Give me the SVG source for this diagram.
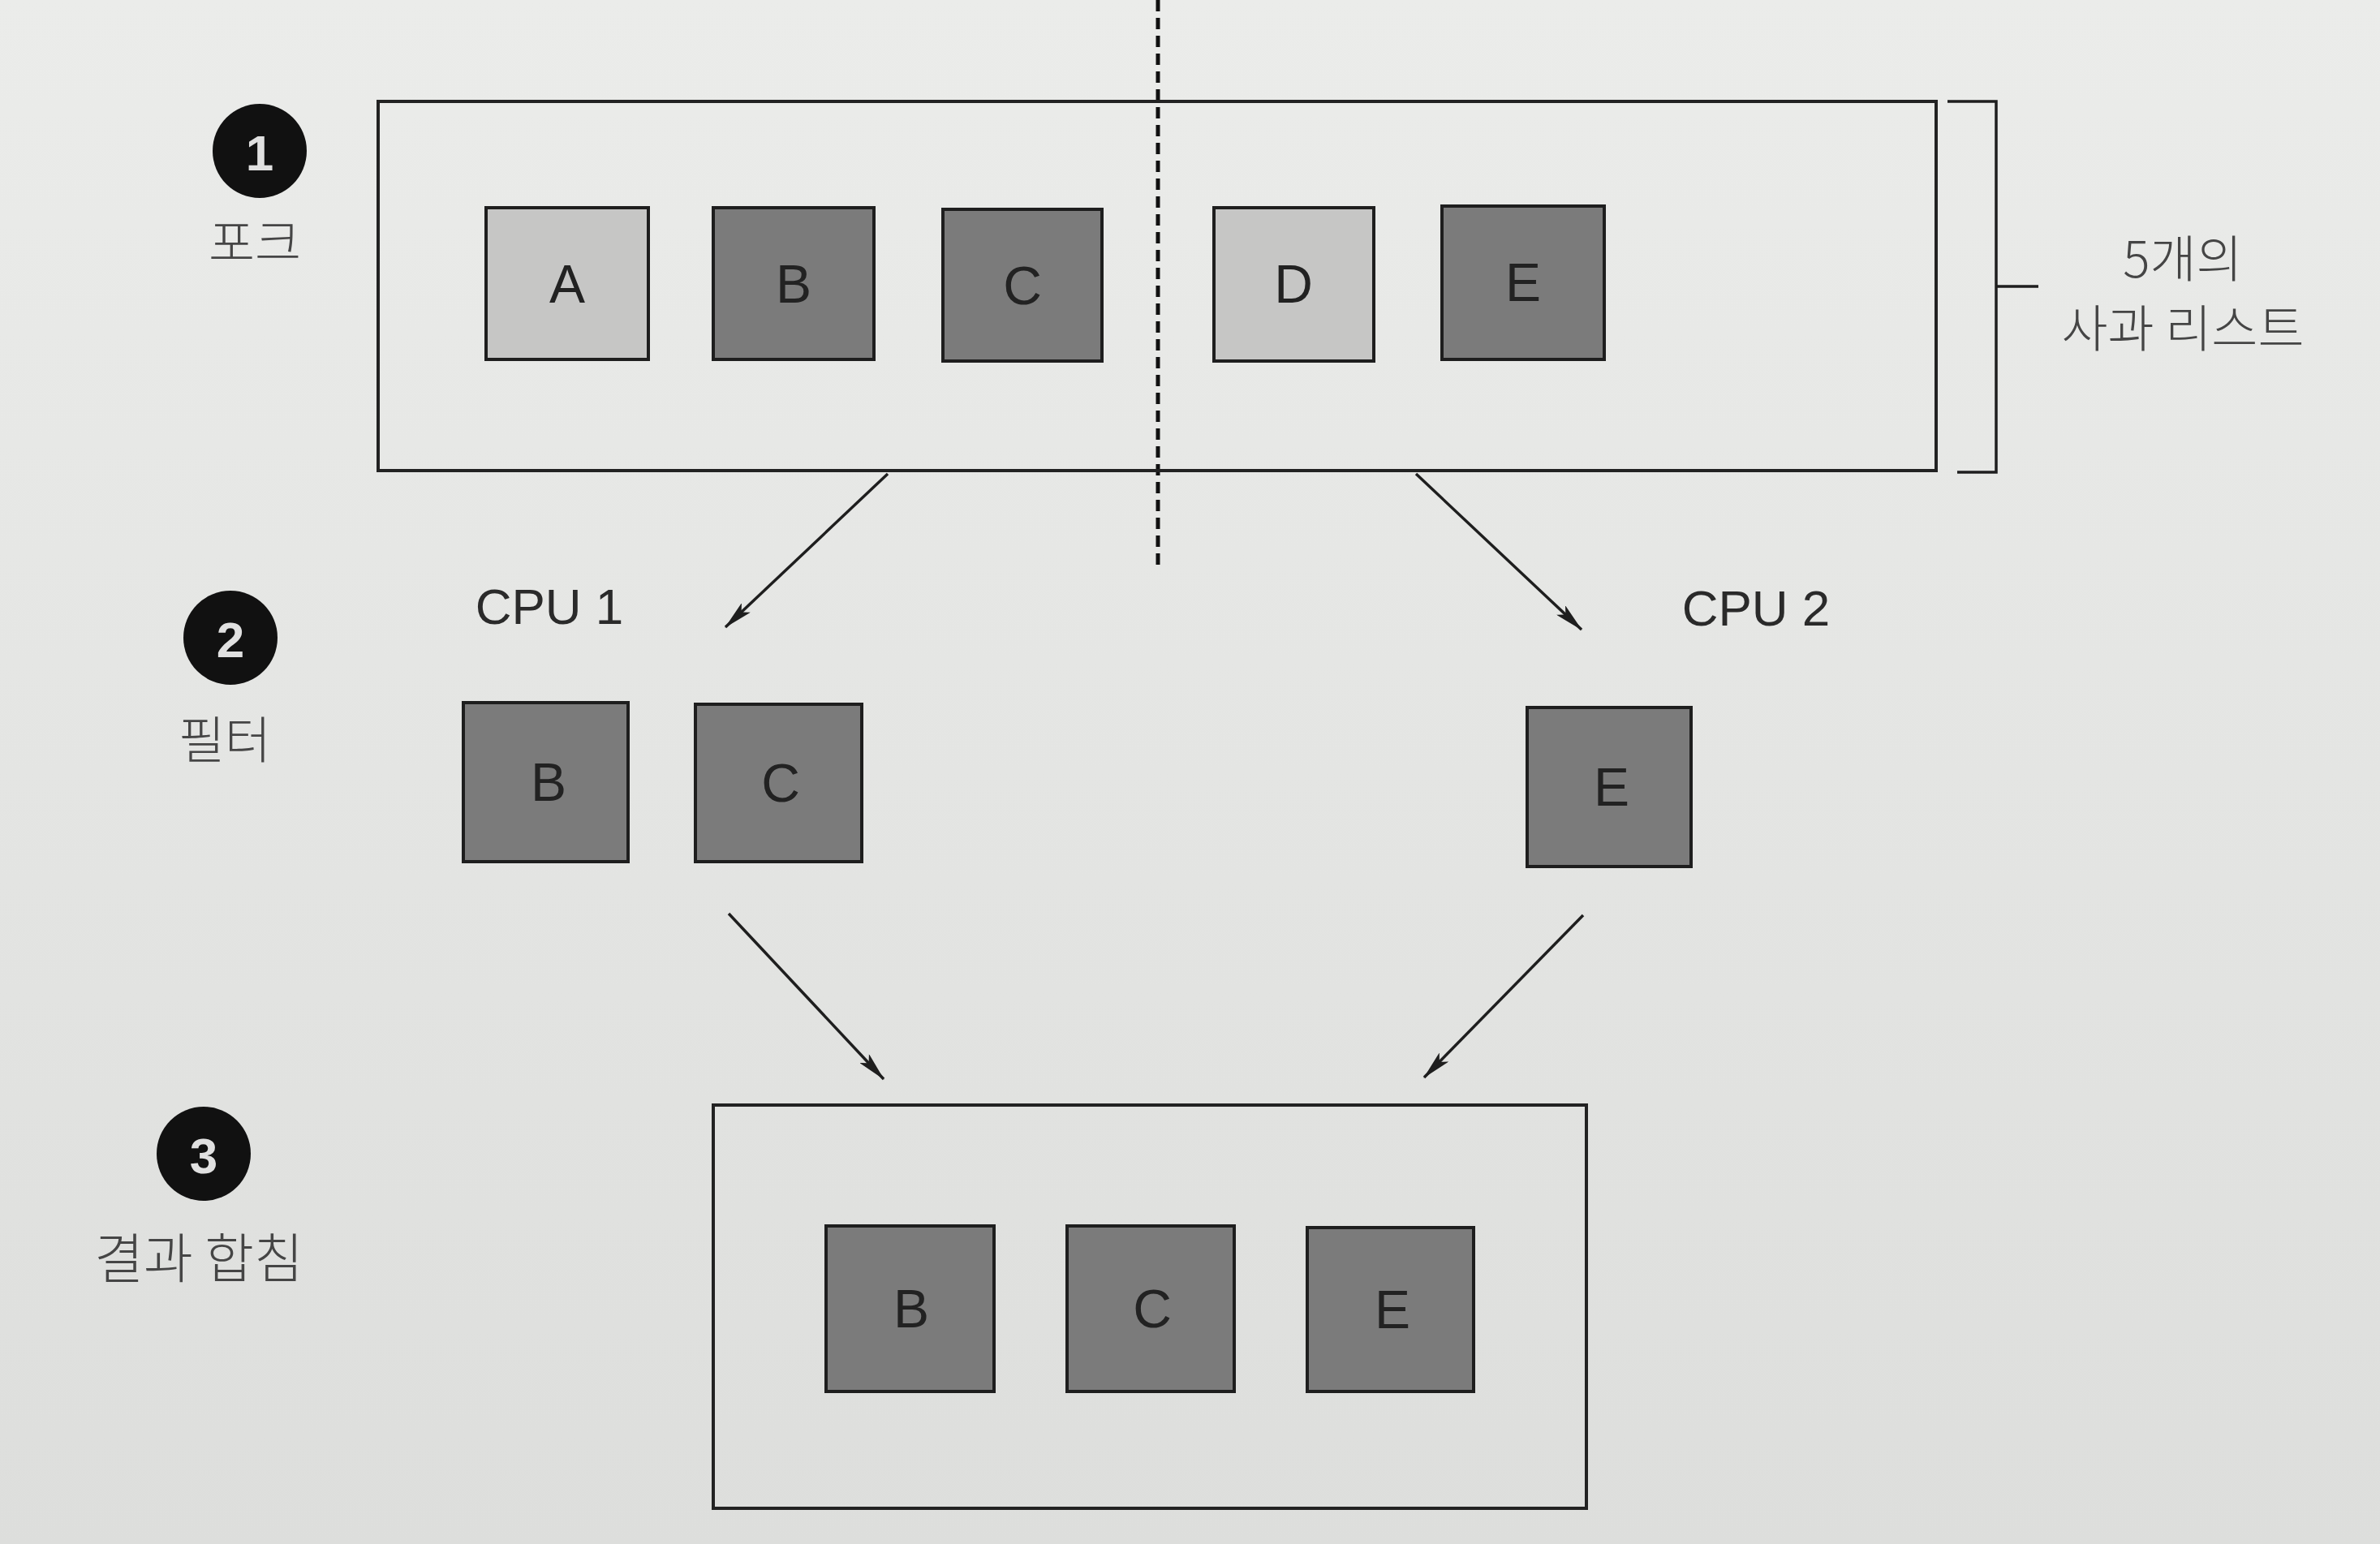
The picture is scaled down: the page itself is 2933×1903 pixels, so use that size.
<svg xmlns="http://www.w3.org/2000/svg" width="2933" height="1903" viewBox="0 0 2933 1903">
<defs>
<linearGradient id="bg" x1="0" y1="0" x2="0" y2="1">
<stop offset="0" stop-color="#ebecea"/>
<stop offset="1" stop-color="#dddedc"/>
</linearGradient>
<marker id="arrb" viewBox="0 0 36 16" refX="35" refY="8" markerWidth="36" markerHeight="16" markerUnits="userSpaceOnUse" orient="auto">
<path d="M0,0 L36,8 L0,16 L8,8 Z" fill="#1e1e1e"/>
</marker>
</defs>
<style>
.frame{fill:none;stroke:#222;stroke-width:4}
.dark{fill:#7b7b7b;stroke:#1e1e1e;stroke-width:4}
.light{fill:#c6c6c5;stroke:#1e1e1e;stroke-width:4}
.lbl{font-family:"Liberation Sans","Noto Sans",sans-serif;font-size:66px;fill:#222;text-anchor:middle;dominant-baseline:central}
.cpu{font-family:"Liberation Sans","Noto Sans",sans-serif;font-size:62px;fill:#2a2a2a;text-anchor:middle}
.kr{font-family:"Noto Sans CJK KR","Liberation Sans",sans-serif;font-size:62px;font-weight:300;fill:#454545;text-anchor:middle}
.step{fill:#111}
.num{font-family:"Liberation Sans","Noto Sans",sans-serif;font-weight:bold;font-size:62px;fill:#e0e0e0;text-anchor:middle;dominant-baseline:central}
.conn{stroke:#1e1e1e;stroke-width:3.5;fill:none}
.dash{stroke:#111;stroke-width:5;stroke-dasharray:14 8;fill:none}
</style>
<rect width="2933" height="1903" fill="url(#bg)"/>

<g id="connectors">
<line class="dash" x1="1427" y1="0" x2="1427" y2="702"/>
<line class="conn" x1="1094" y1="584" x2="894" y2="773" marker-end="url(#arrb)"/>
<line class="conn" x1="1745" y1="584" x2="1949" y2="776" marker-end="url(#arrb)"/>
<line class="conn" x1="898" y1="1126" x2="1089" y2="1330" marker-end="url(#arrb)"/>
<line class="conn" x1="1951" y1="1128" x2="1755" y2="1328" marker-end="url(#arrb)"/>
</g>

<g id="fork-list">
<rect class="frame" x="466" y="125" width="1920" height="455"/>
</g>
<g id="bracket">
<path class="conn" d="M2400,125 H2460 V582 H2412 M2460,353 H2512"/>
<text class="kr" x="2690" y="342">5개의</text>
<text class="kr" x="2690" y="428">사과 리스트</text>
</g>

<g id="step1">
<circle class="step" cx="320" cy="186" r="58"/>
<text class="num" x="320" y="188">1</text>
<text class="kr" x="314" y="322">포크</text>
</g>
<g id="step2">
<circle class="step" cx="284" cy="786" r="58"/>
<text class="num" x="284" y="788">2</text>
<text class="kr" x="277" y="935">필터</text>
</g>
<g id="step3">
<circle class="step" cx="251" cy="1422" r="58"/>
<text class="num" x="251" y="1424">3</text>
<text class="kr" x="245" y="1575" style="font-size:66px">결과 합침</text>
</g>

<g id="apple-A"><rect class="light" x="599" y="256" width="200" height="187"/><text class="lbl" x="699" y="350">A</text></g>
<g id="apple-B"><rect class="dark" x="879" y="256" width="198" height="187"/><text class="lbl" x="978" y="350">B</text></g>
<g id="apple-C"><rect class="dark" x="1162" y="258" width="196" height="187"/><text class="lbl" x="1260" y="352">C</text></g>
<g id="apple-D"><rect class="light" x="1496" y="256" width="197" height="189"/><text class="lbl" x="1594" y="350">D</text></g>
<g id="apple-E"><rect class="dark" x="1777" y="254" width="200" height="189"/><text class="lbl" x="1877" y="348">E</text></g>

<g id="cpu1-label"><text class="cpu" x="677" y="769">CPU 1</text></g>
<g id="cpu2-label"><text class="cpu" x="2164" y="771">CPU 2</text></g>

<g id="filter-B"><rect class="dark" x="571" y="866" width="203" height="196"/><text class="lbl" x="676" y="964">B</text></g>
<g id="filter-C"><rect class="dark" x="857" y="868" width="205" height="194"/><text class="lbl" x="962" y="965">C</text></g>
<g id="filter-E"><rect class="dark" x="1882" y="872" width="202" height="196"/><text class="lbl" x="1986" y="970">E</text></g>

<g id="result-list">
<rect class="frame" x="879" y="1362" width="1076" height="497"/>
</g>
<g id="result-B"><rect class="dark" x="1018" y="1511" width="207" height="204"/><text class="lbl" x="1123" y="1613">B</text></g>
<g id="result-C"><rect class="dark" x="1315" y="1511" width="206" height="204"/><text class="lbl" x="1420" y="1613">C</text></g>
<g id="result-E"><rect class="dark" x="1611" y="1513" width="205" height="202"/><text class="lbl" x="1716" y="1614">E</text></g>
</svg>
